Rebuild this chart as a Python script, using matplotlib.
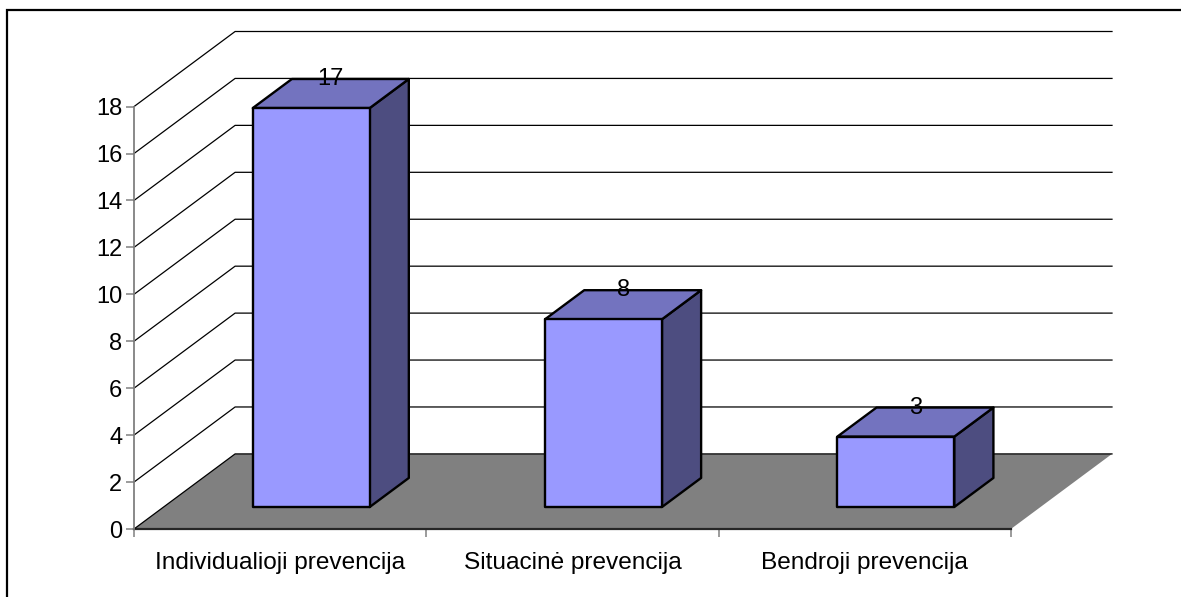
import matplotlib
matplotlib.use("Agg")
import matplotlib.pyplot as plt
from matplotlib.lines import Line2D
from matplotlib.patches import Polygon

categories = ["Individualioji prevencija", "Situacinė prevencija", "Bendroji prevencija"]
values = [17, 8, 3]
y_ticks = list(range(0, 20, 2))

W, H = 1181, 597
# pixel box of the plot, depth of the 3d effect
LEFT, RIGHT, TOP, BOTTOM = 134, 1112, 31.5, 529
DX = 101 / 292.0
DY = 75 / 23.44

FRONT = "#9999ff"
TOPC = "#7373bf"
SIDE = "#4d4d80"
FLOOR = "#808080"


def proj(x, v, z):
    return (x + z * DX, v + z * DY)


def box(ax, x0, x1, v, z0, z1):
    side = [proj(x1, 0, z0), proj(x1, 0, z1), proj(x1, v, z1), proj(x1, v, z0)]
    top = [proj(x0, v, z0), proj(x1, v, z0), proj(x1, v, z1), proj(x0, v, z1)]
    front = [proj(x0, 0, z0), proj(x1, 0, z0), proj(x1, v, z0), proj(x0, v, z0)]
    for pts, c in [(side, SIDE), (top, TOPC), (front, FRONT)]:
        ax.add_patch(Polygon(pts, closed=True, fc=c, ec="black", lw=1.7, joinstyle="round", zorder=4))


plt.rcParams["font.family"] = ["Liberation Sans", "DejaVu Sans"]
fig = plt.figure(figsize=(W / 100, H / 100), dpi=100)
# page frame, only top and left edges are in the picture
fig.add_artist(Line2D([7 / W, 7 / W, 1], [0, 1 - 10 / H, 1 - 10 / H], transform=fig.transFigure,
                      color="black", lw=1.6, solid_joinstyle="miter"))
ax = fig.add_axes([LEFT / W, 1 - BOTTOM / H, (RIGHT - LEFT) / W, (BOTTOM - TOP) / H])
ax.patch.set_visible(False)
ax.set_xlim(0, 3 + DX)
ax.set_ylim(0, 18 + DY)

# floor and walls
floor = [proj(0, 0, 0), proj(3, 0, 0), proj(3, 0, 1), proj(0, 0, 1)]
ax.add_patch(Polygon(floor, closed=True, fc=FLOOR, ec="none", zorder=1))
ax.plot([0, 3], [0, 0], color="#262626", lw=1.6, zorder=2, clip_on=False)
for t in y_ticks:
    p0, p1, p2 = proj(0, t, 0), proj(0, t, 1), proj(3, t, 1)
    ax.plot([p0[0], p1[0], p2[0]], [p0[1], p1[1], p2[1]], color="black", lw=0.9, zorder=2, clip_on=False)

# bars
for i, v in enumerate(values):
    box(ax, i + 0.305, i + 0.705, v, 0.293, 0.68)
    lx = proj(i + 0.505, v, 0.4865)[0]
    ly = proj(i + 0.505, v, 0.68)[1]
    ax.text(lx, ly, str(v), ha="center", va="center", fontsize=17, color="black", zorder=5)

# axes
for s in ["top", "right"]:
    ax.spines[s].set_visible(False)
ax.spines["left"].set_bounds(0, 18)
ax.spines["left"].set_color(FLOOR)
ax.spines["bottom"].set_visible(False)
ax.spines["left"].set_linewidth(1.3)
ax.set_yticks(y_ticks)
ax.set_xticks([0, 1, 2, 3])
ax.set_xticklabels([])
ax.set_xticks([0.5, 1.5, 2.5], labels=categories, minor=True)
ax.tick_params(axis="x", which="major", length=6, width=1.1, color=FLOOR)
ax.tick_params(axis="x", which="minor", length=0, pad=16.5, labelsize=17.6)
ax.tick_params(axis="y", length=5.5, width=1.1, color=FLOOR, pad=3, labelsize=17)

fig.savefig("out.png", dpi=100)
